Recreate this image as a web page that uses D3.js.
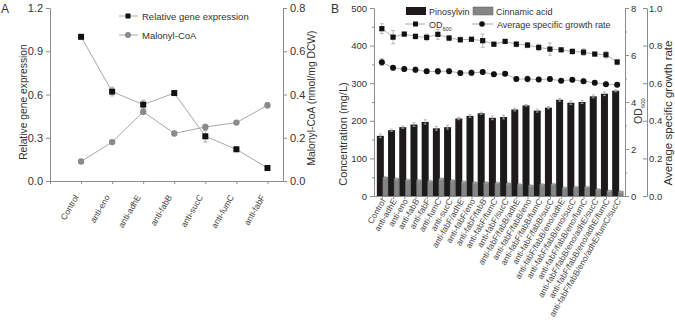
<!DOCTYPE html>
<html>
<head>
<meta charset="utf-8">
<script src="https://cdn.jsdelivr.net/npm/d3@7"></script>
<style>
  body { margin: 0; background: #fff; }
  svg { font-family: "Liberation Sans", Arial, sans-serif; }
  .axis path, .axis line { stroke: #8c8c8c; }
  .axis text { fill: #333; }
</style>
</head>
<body>
<svg id="chart" width="675" height="326"></svg>
<script>
// ---- panel A data ----
const catA = ['Control', 'anti-eno', 'anti-adhE', 'anti-fabB', 'anti-sucC', 'anti-fumC', 'anti-fabF'];
const geneExpr = [1.0, 0.62, 0.53, 0.61, 0.31, 0.22, 0.09];
const geneErr = [0.01, 0.03, 0.03, 0.015, 0.04, 0.015, 0.015];
const malonyl = [0.09, 0.18, 0.32, 0.22, 0.25, 0.27, 0.35];
const malonylErr = [0.005, 0.008, 0.012, 0.01, 0.012, 0.008, 0.012];
const ticksA_left = [0, 0.3, 0.6, 0.9, 1.2];
const ticksA_right = [0, 0.2, 0.4, 0.6, 0.8];

// ---- panel B data ----
const catB = ['Control', 'anti-adhE', 'anti-eno', 'anti-fabB', 'anti-fabF', 'anti-fumC', 'anti-sucC',
  'anti-fabF/adhE', 'anti-fabF/eno', 'anti-fabF/fabB', 'anti-fabF/fumC', 'anti-fabF/sucC',
  'anti-fabF/fabB/adhE', 'anti-fabF/fabB/eno', 'anti-fabF/fabB/fumC', 'anti-fabF/fabB/sucC',
  'anti-fabF/fabB/eno/adhE', 'anti-fabF/fabB/eno/sucC', 'anti-fabF/fabB/eno/fumC',
  'anti-fabF/fabB/eno/adhE/sucC', 'anti-fabF/fabB/eno/adhE/fumC', 'anti-fabF/fabB/eno/adhE/fumC/sucC'];
const pinosylvin = [160, 175, 183, 190, 197, 180, 183, 206, 213, 220, 208, 210, 230, 241, 227, 235, 256, 248, 250, 265, 272, 280];
const pinoErr = [5, 3, 3, 5, 6, 5, 5, 3, 4, 3, 5, 5, 4, 2, 4, 3, 4, 5, 4, 4, 5, 3];
const cinnamic = [50, 46, 43, 42, 40, 46, 42, 38, 36, 36, 35, 34, 31, 28, 31, 32, 22, 24, 24, 18, 14, 12];
const cinnErr = [2, 2, 2, 2, 2, 2, 2, 2, 2, 2, 2, 2, 2, 2, 2, 2, 2, 2, 2, 2, 2, 2];
const od600 = [7.12, 6.76, 6.89, 6.79, 6.75, 6.88, 6.72, 6.65, 6.67, 6.61, 6.46, 6.58, 6.46, 6.42, 6.32, 6.25, 6.22, 6.15, 6.12, 6.04, 6.01, 5.70];
const odErr = [0.21, 0.28, 0.07, 0.11, 0.14, 0.21, 0.11, 0.11, 0.07, 0.28, 0.07, 0.07, 0.11, 0.11, 0.14, 0.26, 0.07, 0.11, 0.14, 0.07, 0.14, 0.11];
const growth = [0.712, 0.682, 0.675, 0.671, 0.663, 0.663, 0.664, 0.654, 0.655, 0.659, 0.647, 0.65, 0.622, 0.622, 0.62, 0.622, 0.613, 0.618, 0.611, 0.602, 0.595, 0.592];
const growthErr = [0.018, 0.012, 0.012, 0.015, 0.012, 0.015, 0.012, 0.012, 0.015, 0.012, 0.012, 0.01, 0.012, 0.015, 0.012, 0.012, 0.01, 0.012, 0.012, 0.012, 0.012, 0.01];
const ticksConc = [0, 100, 200, 300, 400, 500];
const ticksOD = [0, 2, 4, 6, 8];
const ticksGrowth = [0, 0.2, 0.4, 0.6, 0.8, 1.0];

const svg = d3.select('#chart');
const lineGray = '#a8a8a8';

function errBars(g, data, xf, yScale, color, cap) {
    g.selectAll(null).data(data).enter().append('path')
        .attr('d', d => {
            let x = xf(d), y0 = yScale(d.v - d.e), y1 = yScale(d.v + d.e);
            return `M${x},${y0}V${y1}M${x - cap},${y0}H${x + cap}M${x - cap},${y1}H${x + cap}`;
        })
        .attr('fill', 'none').attr('stroke', color).attr('stroke-width', 0.8);
}

// ================= Panel A =================
{
    let xA = d3.scaleLinear().domain([0, 7.5]).range([50, 283]);
    let yL = d3.scaleLinear().domain([0, 1.2]).range([181, 8]);
    let yR = d3.scaleLinear().domain([0, 0.8]).range([181, 8]);
    let g = svg.append('g');

    g.append('g').attr('class', 'axis').attr('transform', 'translate(50,0)')
        .call(d3.axisLeft(yL).tickValues(ticksA_left).tickFormat(d3.format('.1f')).tickSize(4).tickSizeOuter(0))
        .attr('font-size', 11);
    g.append('g').attr('class', 'axis').attr('transform', 'translate(283,0)')
        .call(d3.axisRight(yR).tickValues(ticksA_right).tickFormat(d3.format('.1f')).tickSize(4).tickSizeOuter(0))
        .attr('font-size', 11);
    g.append('g').attr('class', 'axis').attr('transform', 'translate(0,181)')
        .call(d3.axisBottom(xA).tickValues(d3.range(0, 8)).tickFormat('').tickSize(3).tickSizeOuter(0));

    g.selectAll('.xlabA').data(catA).enter().append('text')
        .attr('transform', (d, i) => `translate(${xA(i + 1) - 2},${197}) rotate(-60)`)
        .attr('text-anchor', 'end').attr('font-size', 8.5).attr('fill', '#444')
        .text(d => d);

    // titles
    g.append('text').attr('transform', 'translate(27,102) rotate(-90)')
        .attr('text-anchor', 'middle').attr('font-size', 10.3).attr('fill', '#333')
        .text('Relative gene expression');
    g.append('text').attr('transform', 'translate(315,98) rotate(-90)')
        .attr('text-anchor', 'middle').attr('font-size', 10.3).attr('fill', '#333')
        .text('Malonyl-CoA (nmol/mg DCW)');
    g.append('text').attr('x', 1).attr('y', 13).attr('font-size', 12).attr('fill', '#333').text('A');

    let gene = geneExpr.map((v, i) => ({i: i, v: v, e: geneErr[i]}));
    let mal = malonyl.map((v, i) => ({i: i, v: v, e: malonylErr[i]}));

    let lineL = d3.line().x(d => xA(d.i + 1)).y(d => yL(d.v));
    let lineR = d3.line().x(d => xA(d.i + 1)).y(d => yR(d.v));
    g.append('path').attr('d', lineL(gene)).attr('fill', 'none').attr('stroke', lineGray).attr('stroke-width', 1);
    g.append('path').attr('d', lineR(mal)).attr('fill', 'none').attr('stroke', lineGray).attr('stroke-width', 1);

    errBars(g, gene, d => xA(d.i + 1), yL, '#999', 2);
    errBars(g, mal, d => xA(d.i + 1), yR, '#999', 2);

    g.selectAll('.sqA').data(gene).enter().append('rect')
        .attr('x', d => xA(d.i + 1) - 3).attr('y', d => yL(d.v) - 3)
        .attr('width', 6).attr('height', 6).attr('fill', '#111');
    g.selectAll('.ciA').data(mal).enter().append('circle')
        .attr('cx', d => xA(d.i + 1)).attr('cy', d => yR(d.v))
        .attr('r', 3.2).attr('fill', '#8a8a8a');

    // legend
    let lg = g.append('g');
    lg.append('line').attr('x1', 119).attr('x2', 138).attr('y1', 16).attr('y2', 16).attr('stroke', lineGray);
    lg.append('rect').attr('x', 125.5).attr('y', 13.5).attr('width', 5).attr('height', 5).attr('fill', '#111');
    lg.append('text').attr('x', 142).attr('y', 19.5).attr('font-size', 9.5).attr('fill', '#333').text('Relative gene expression');
    lg.append('line').attr('x1', 119).attr('x2', 138).attr('y1', 35).attr('y2', 35).attr('stroke', lineGray);
    lg.append('circle').attr('cx', 128).attr('cy', 35).attr('r', 3).attr('fill', '#8a8a8a');
    lg.append('text').attr('x', 142).attr('y', 38.5).attr('font-size', 9.5).attr('fill', '#333').text('Malonyl-CoA');
}

// ================= Panel B =================
{
    let xB = d3.scalePoint().domain(catB).range([374, 625]).padding(0.7);
    let yC = d3.scaleLinear().domain([0, 500]).range([196, 8]);
    let yOD = d3.scaleLinear().domain([0, 8]).range([196, 8]);
    let yG = d3.scaleLinear().domain([0, 1]).range([196, 8]);
    let g = svg.append('g');

    // bars
    g.selectAll('.pino').data(pinosylvin).enter().append('rect')
        .attr('x', (d, i) => xB(catB[i]) - 5).attr('width', 7)
        .attr('y', d => yC(d)).attr('height', d => yC(0) - yC(d))
        .attr('fill', '#1c1a1b');
    g.selectAll('.cinn').data(cinnamic).enter().append('rect')
        .attr('x', (d, i) => xB(catB[i]) + 1).attr('width', 5)
        .attr('y', d => yC(d)).attr('height', d => yC(0) - yC(d))
        .attr('fill', '#858585').attr('stroke', '#5e5e5e').attr('stroke-width', 0.5);
    errBars(g, pinosylvin.map((v, i) => ({i: i, v: v, e: pinoErr[i]})), d => xB(catB[d.i]) - 1.5, yC, '#aaa', 1.5);
    errBars(g, cinnamic.map((v, i) => ({i: i, v: v, e: cinnErr[i]})), d => xB(catB[d.i]) + 3.5, yC, '#aaa', 1.5);

    // axes
    g.append('g').attr('class', 'axis').attr('transform', 'translate(374,0)')
        .call(d3.axisLeft(yC).tickValues(ticksConc).tickSize(4).tickSizeOuter(0))
        .attr('font-size', 9.5);
    g.append('g').attr('class', 'axis').attr('transform', 'translate(374,0)')
        .call(d3.axisLeft(yC).tickValues([50, 150, 250, 350, 450]).tickFormat('').tickSize(2).tickSizeOuter(0))
        .select('.domain').remove();
    g.append('g').attr('class', 'axis').attr('transform', 'translate(625,0)')
        .call(d3.axisRight(yOD).tickValues(ticksOD).tickSize(4).tickPadding(2).tickSizeOuter(0))
        .attr('font-size', 9.5);
    g.append('g').attr('class', 'axis').attr('transform', 'translate(625,0)')
        .call(d3.axisRight(yOD).tickValues([1, 3, 5, 7]).tickFormat('').tickSize(2).tickSizeOuter(0))
        .select('.domain').remove();
    g.append('g').attr('class', 'axis').attr('transform', 'translate(647,0)')
        .call(d3.axisRight(yG).tickValues(ticksGrowth).tickFormat(d3.format('.1f')).tickSizeInner(-4).tickPadding(2).tickSizeOuter(0))
        .attr('font-size', 9.5);
    g.append('g').attr('class', 'axis').attr('transform', 'translate(0,196)')
        .call(d3.axisBottom(xB).tickFormat('').tickSize(3).tickSizeOuter(0));

    g.selectAll('.xlabB').data(catB).enter().append('text')
        .attr('transform', d => `translate(${xB(d) + 4},${201}) rotate(-60)`)
        .attr('text-anchor', 'end').attr('font-size', 8.4).attr('fill', '#444')
        .text(d => d);

    // titles
    g.append('text').attr('transform', 'translate(347,134) rotate(-90)')
        .attr('text-anchor', 'middle').attr('font-size', 11).attr('fill', '#333')
        .text('Concentration (mg/L)');
    let odT = g.append('text').attr('transform', 'translate(642,111) rotate(-90)')
        .attr('text-anchor', 'middle').attr('font-size', 10.5).attr('fill', '#333');
    odT.append('tspan').text('OD');
    odT.append('tspan').attr('font-size', 6).attr('dy', 3).text('600');
    g.append('text').attr('transform', 'translate(672,113) rotate(-90)')
        .attr('text-anchor', 'middle').attr('font-size', 11.5).attr('fill', '#333')
        .text('Average specific growth rate');
    g.append('text').attr('x', 331).attr('y', 13).attr('font-size', 12).attr('fill', '#333').text('B');

    // lines
    let od = od600.map((v, i) => ({i: i, v: v, e: odErr[i]}));
    let gr = growth.map((v, i) => ({i: i, v: v, e: growthErr[i]}));
    g.append('path').attr('d', d3.line().x(d => xB(catB[d.i])).y(d => yOD(d.v))(od))
        .attr('fill', 'none').attr('stroke', lineGray).attr('stroke-width', 0.9);
    g.append('path').attr('d', d3.line().x(d => xB(catB[d.i])).y(d => yG(d.v))(gr))
        .attr('fill', 'none').attr('stroke', lineGray).attr('stroke-width', 0.9);
    errBars(g, od, d => xB(catB[d.i]), yOD, '#aaa', 2);
    errBars(g, gr, d => xB(catB[d.i]), yG, '#aaa', 2);
    g.selectAll('.sqB').data(od).enter().append('rect')
        .attr('x', d => xB(catB[d.i]) - 2.6).attr('y', d => yOD(d.v) - 2.6)
        .attr('width', 5.2).attr('height', 5.2).attr('fill', '#111');
    g.selectAll('.ciB').data(gr).enter().append('circle')
        .attr('cx', d => xB(catB[d.i])).attr('cy', d => yG(d.v))
        .attr('r', 3).attr('fill', '#111');

    // legend
    let lg = g.append('g');
    lg.append('rect').attr('x', 406).attr('y', 7).attr('width', 20).attr('height', 8).attr('fill', '#1c1a1b');
    lg.append('text').attr('x', 429).attr('y', 14.5).attr('font-size', 9).attr('fill', '#333').text('Pinosylvin');
    lg.append('rect').attr('x', 473).attr('y', 7).attr('width', 20).attr('height', 8)
        .attr('fill', '#858585').attr('stroke', '#5e5e5e').attr('stroke-width', 0.5);
    lg.append('text').attr('x', 496).attr('y', 14.5).attr('font-size', 9).attr('fill', '#333').text('Cinnamic acid');
    lg.append('line').attr('x1', 405).attr('x2', 425).attr('y1', 24).attr('y2', 24).attr('stroke', lineGray);
    lg.append('rect').attr('x', 413).attr('y', 21.5).attr('width', 5).attr('height', 5).attr('fill', '#111');
    let lt = lg.append('text').attr('x', 429).attr('y', 27.5).attr('font-size', 9).attr('fill', '#333');
    lt.append('tspan').text('OD');
    lt.append('tspan').attr('font-size', 5.5).attr('dy', 3).text('600');
    lg.append('line').attr('x1', 472).attr('x2', 493).attr('y1', 24).attr('y2', 24).attr('stroke', lineGray);
    lg.append('circle').attr('cx', 482).attr('cy', 24).attr('r', 2.8).attr('fill', '#111');
    lg.append('text').attr('x', 497).attr('y', 27.5).attr('font-size', 9).attr('fill', '#333').text('Average specific growth rate');
}
</script>
</body>
</html>
